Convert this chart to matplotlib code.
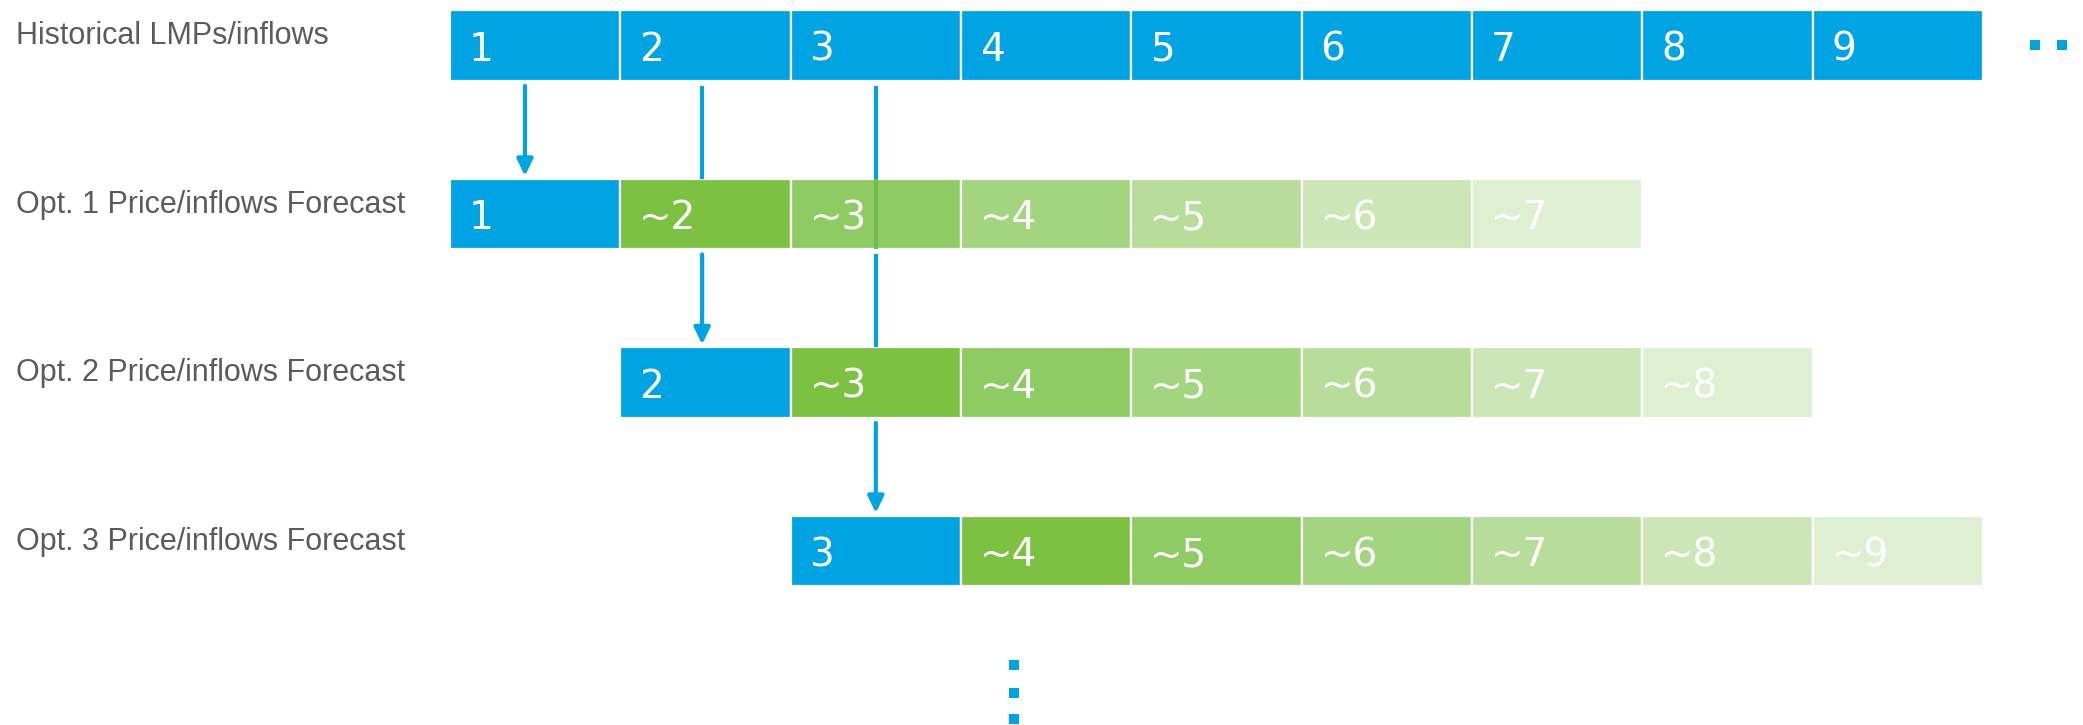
import matplotlib
matplotlib.use("Agg")
import matplotlib.pyplot as plt

# ---------------- data ----------------
row_labels = ["Historical LMPs/inflows",
              "Opt. 1 Price/inflows Forecast",
              "Opt. 2 Price/inflows Forecast",
              "Opt. 3 Price/inflows Forecast"]
hist_steps = [1, 2, 3, 4, 5, 6, 7, 8, 9]
hist_texts = ["1", "2", "3", "4", "5", "6", "7", "8", "9"]
opt_starts = [1, 2, 3]
opt1_texts = ["1", "~2", "~3", "~4", "~5", "~6", "~7"]
opt2_texts = ["2", "~3", "~4", "~5", "~6", "~7", "~8"]
opt3_texts = ["3", "~4", "~5", "~6", "~7", "~8", "~9"]
opt_texts = [opt1_texts, opt2_texts, opt3_texts]

BLUE = "#00A4E2"
GREENS = ["#7DC142", "#8FCB63", "#A3D47F", "#B8DD9A", "#CCE6B7", "#DFEFD2"]
LABEL_C = "#5A5B5D"

# ---------------- figure ----------------
fig = plt.figure(figsize=(20.83, 7.25), dpi=100)
ax = fig.add_axes([0, 0, 1, 1])
ax.set_xlim(-2.642, 9.587)
ax.set_ylim(4.033, -0.27)
ax.axis("off")

H = 0.42
num_font = dict(family="DejaVu Sans", fontsize=28, color="white")

# historical row
for s, t in zip(hist_steps, hist_texts):
    ax.barh(0, 1, left=s - 1, height=H, color=BLUE, edgecolor="white", linewidth=1.6)
    ax.text(s - 1 + 0.11, 0.025, t, ha="left", va="center", **num_font)

# forecast rows
for r, (st, texts) in enumerate(zip(opt_starts, opt_texts), start=1):
    for k, t in enumerate(texts):
        left = st - 1 + k
        col = BLUE if k == 0 else GREENS[k - 1]
        ax.barh(r, 1, left=left, height=H, color=col, edgecolor="white", linewidth=1.6)
        ax.text(left + 0.11, r + 0.025, t, ha="left", va="center", **num_font)

# row labels
for r, lab in enumerate(row_labels):
    ax.text(-2.548, r - 0.055, lab, ha="left", va="center",
            family="Liberation Sans", fontsize=22, color=LABEL_C)

# arrows
def arrow(x, y0, y1, head=True):
    if head:
        ax.annotate("", xy=(x, y1), xytext=(x, y0),
                    arrowprops=dict(arrowstyle="-|>,head_length=0.5,head_width=0.24",
                                    mutation_scale=20, lw=3, color=BLUE,
                                    shrinkA=0, shrinkB=0))
    else:
        ax.plot([x, x], [y0, y1], color=BLUE, lw=3, solid_capstyle="butt")

gap0 = H / 2 + 0.03
arrow(0.44, 0 + gap0, 1 - H / 2 - 0.015)
arrow(1.48, 0 + gap0, 1 - H / 2, head=False)
arrow(1.48, 1 + gap0, 2 - H / 2 - 0.015)
arrow(2.50, 0 + gap0, 1 - H / 2, head=False)
ax.plot([2.50, 2.50], [1 - H / 2, 1 + H / 2], color="#70BB50", lw=3, solid_capstyle="butt")
arrow(2.50, 1 + gap0, 2 - H / 2, head=False)
arrow(2.50, 2 + gap0, 3 - H / 2 - 0.015)

# continuation dots
ax.scatter([9.305, 9.464], [0, 0], marker="s", s=45, color=BLUE, linewidths=0)
ax.scatter([3.31, 3.31, 3.31], [3.677, 3.843, 4.0], marker="s", s=45, color=BLUE,
           linewidths=0, clip_on=False)

fig.savefig("out.png", dpi=100)
